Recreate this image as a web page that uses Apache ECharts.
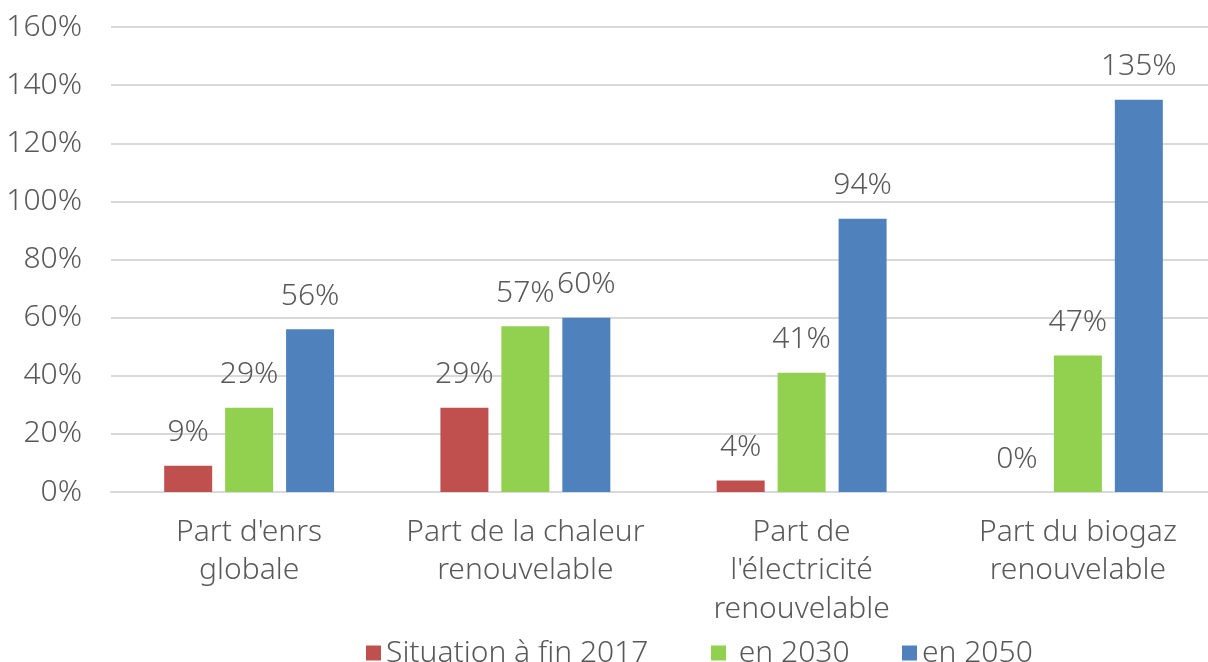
<!DOCTYPE html>
<html>
<head>
<meta charset="utf-8">
<script src="https://cdn.jsdelivr.net/npm/echarts@6/dist/echarts.min.js"></script>
<style>html,body{margin:0;padding:0;background:#fff;overflow:hidden}#c{width:1216px;height:662px}</style>
</head>
<body>
<div id="c"></div>
<script>
var categories = ["Part d'enrs\nglobale", "Part de la chaleur\nrenouvelable", "Part de\nl'électricité\nrenouvelable", "Part du biogaz\nrenouvelable"];
var seriesNames = ["Situation à fin 2017", " en 2030", "en 2050"];
var situation2017 = [9, 29, 4, 0];
var en2030 = [29, 57, 41, 47];
var en2050 = [56, 60, 94, 135];
var yTicks = [0, 20, 40, 60, 80, 100, 120, 140, 160];

var colors = ['#C0504D', '#92D050', '#4F81BD'];
var FONT = '"Noto Sans", sans-serif';
var TXT = '#595959';

var chart = echarts.init(document.getElementById('c'), null, {renderer: 'canvas'});

function mkSeries(name, data, color) {
  return {
    name: name, type: 'bar', data: data,
    barWidth: 48, barGap: '27%',
    itemStyle: {color: color},
    label: {
      show: true, position: 'top', distance: 18,
      formatter: function (p) { return p.value + '%'; },
      fontFamily: FONT, fontSize: 30, fontWeight: 300, color: TXT
    }
  };
}

function mkLegend(name, left) {
  return {
    data: [name], left: left, top: 633, orient: 'horizontal',
    itemWidth: 15, itemHeight: 15, icon: 'rect',
    textStyle: {fontFamily: FONT, fontSize: 30, fontWeight: 300, color: TXT, lineHeight: 30},
    itemGap: 5
  };
}

chart.setOption({
  animation: false,
  backgroundColor: '#ffffff',
  color: colors,
  legend: [mkLegend(seriesNames[0], 361), mkLegend(seriesNames[1], 706), mkLegend(seriesNames[2], 897)],
  grid: {left: 111, right: 0, top: 27, bottom: 170, containLabel: false},
  xAxis: {
    type: 'category', data: categories,
    axisTick: {show: false},
    axisLine: {show: true, lineStyle: {color: '#D9D9D9', width: 2}},
    axisLabel: {fontFamily: FONT, fontSize: 30, fontWeight: 300, color: TXT, lineHeight: 38.5, margin: 21, interval: 0}
  },
  yAxis: {
    type: 'value', min: yTicks[0], max: yTicks[yTicks.length - 1], interval: 20,
    axisLine: {show: false}, axisTick: {show: false},
    splitLine: {lineStyle: {color: '#D9D9D9', width: 2}},
    axisLabel: {fontFamily: FONT, fontSize: 30, fontWeight: 300, color: TXT, margin: 29,
      formatter: function (v) { return v + '%'; }}
  },
  series: [
    mkSeries(seriesNames[0], situation2017, colors[0]),
    mkSeries(seriesNames[1], en2030, colors[1]),
    mkSeries(seriesNames[2], en2050, colors[2])
  ]
});
</script>
</body>
</html>
